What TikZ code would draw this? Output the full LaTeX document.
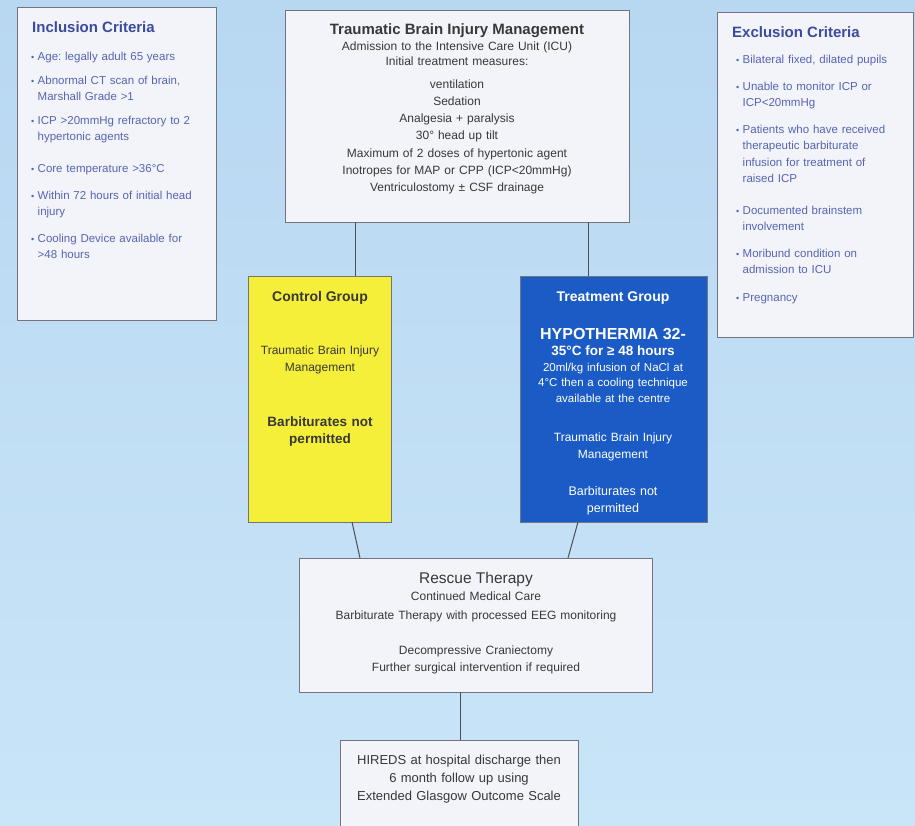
\documentclass[tikz,border=0pt]{standalone}
\usepackage{fontspec}
\setmainfont{Liberation Sans}
\definecolor{bgtop}{HTML}{B8D7F1}
\definecolor{bgbot}{HTML}{C9E5F8}
\definecolor{boxfill}{HTML}{F3F4FA}
\definecolor{boxline}{HTML}{74747E}
\definecolor{critTitle}{HTML}{3A4A9E}
\definecolor{critText}{HTML}{5664B2}
\definecolor{txt}{HTML}{383838}
\definecolor{ctrlfill}{HTML}{F5EF3A}
\definecolor{trtfill}{HTML}{1B5BC6}
\definecolor{linkcol}{HTML}{4E4E56}
\newcommand\myfs[2]{\fontsize{#1}{#2}\selectfont}
\newcommand\critbul{\makebox[6.5pt][l]{\myfs{9}{9}\textbullet}}
\newcommand\critind{\hspace*{6.5pt}}
\frenchspacing
\begin{document}
\begin{tikzpicture}[x=1pt,y=-1pt,
  panel/.style={draw=boxline, line width=1pt, fill=boxfill, anchor=north west, inner sep=0pt, outer sep=0pt},
  txtline/.style={anchor=base, inner sep=0pt, align=center, text=txt},
  crittitle/.style={anchor=base west, inner sep=0pt, text=critTitle, font=\bfseries\myfs{15}{18}},
  crit/.style={anchor=base west, inner sep=0pt, align=left, text width=178pt, text=critText},
  conn/.style={draw=linkcol, line width=1pt}
]
\useasboundingbox (0,0) rectangle (915,825);
\shade[top color=bgtop, bottom color=bgbot] (0,0) rectangle (915,825);
\clip (0,0) rectangle (915,825);

% ---------- Inclusion criteria ----------
\node[panel, minimum width=199pt, minimum height=313pt] (inc) at (17,7) {};
\node[crittitle] (incT) at (32,32) {Inclusion Criteria};
\node[crit, font=\myfs{11.5}{16.5}] (inc1) at (31,60) {\critbul Age: legally adult 65 years};
\node[crit, font=\myfs{11.5}{16.5}] (inc2) at (31,84) {\critbul Abnormal CT scan of brain,\\\critind Marshall Grade >1};
\node[crit, font=\myfs{11.5}{16.5}] (inc3) at (31,124) {\critbul ICP >20mmHg refractory to 2\\\critind hypertonic agents};
\node[crit, font=\myfs{11.5}{16.5}] (inc4) at (31,172) {\critbul Core temperature >36°C};
\node[crit, font=\myfs{11.5}{16.5}] (inc5) at (31,199) {\critbul Within 72 hours of initial head\\\critind injury};
\node[crit, font=\myfs{11.5}{16.5}] (inc6) at (31,242) {\critbul Cooling Device available for\\\critind >48 hours};

% ---------- Exclusion criteria ----------
\node[panel, minimum width=196pt, minimum height=325pt] (exc) at (717,12) {};
\node[crittitle] (excT) at (732,37) {Exclusion Criteria};
\node[crit, font=\myfs{11.5}{16.5}] (exc1) at (736,63) {\critbul Bilateral fixed, dilated pupils};
\node[crit, font=\myfs{11.5}{16.5}] (exc2) at (736,90) {\critbul Unable to monitor ICP or\\\critind ICP<20mmHg};
\node[crit, font=\myfs{11.5}{16.5}] (exc3) at (736,133) {\critbul Patients who have received\\\critind therapeutic barbiturate\\\critind infusion for treatment of\\\critind raised ICP};
\node[crit, font=\myfs{11.5}{16.5}] (exc4) at (736,214) {\critbul Documented brainstem\\\critind involvement};
\node[crit, font=\myfs{11.5}{16.5}] (exc5) at (736,257) {\critbul Moribund condition on\\\critind admission to ICU};
\node[crit, font=\myfs{11.5}{16.5}] (exc6) at (736,301) {\critbul Pregnancy};

% ---------- TBI management ----------
\node[panel, minimum width=344pt, minimum height=212pt] (tbi) at (285,10) {};
\node[txtline, font=\bfseries\myfs{15}{18}] (tbiT) at (457,34.5) {Traumatic Brain Injury Management};
\node[txtline, text width=330pt, font=\myfs{12}{15.5}] (tbiA) at (457,50) {Admission to the Intensive Care Unit (ICU)\\Initial treatment measures:};
\node[txtline, text width=330pt, font=\myfs{12}{17.3}] (tbiB) at (457,88) {ventilation\\Sedation\\Analgesia + paralysis\\30° head up tilt\\Maximum of 2 doses of hypertonic agent\\Inotropes for MAP or CPP (ICP<20mmHg)\\Ventriculostomy ± CSF drainage};

% ---------- Control group ----------
\node[panel, fill=ctrlfill, minimum width=143pt, minimum height=246pt] (ctrl) at (248,276) {};
\node[txtline, font=\bfseries\myfs{14}{17}] (ctrlT) at (320,301) {Control Group};
\node[txtline, text width=140pt, font=\myfs{12}{17}] (ctrlA) at (320,354) {Traumatic Brain Injury\\Management};
\node[txtline, text width=140pt, font=\bfseries\myfs{13.5}{17}] (ctrlB) at (320,426) {Barbiturates not\\permitted};

% ---------- Treatment group ----------
\node[panel, fill=trtfill, minimum width=187pt, minimum height=246pt] (trt) at (520,276) {};
\node[txtline, text=white, font=\bfseries\myfs{14}{17}] (trtT) at (613,301) {Treatment Group};
\node[txtline, text=white, font=\bfseries\myfs{16}{17}] (trtH) at (613,339) {HYPOTHERMIA 32-};
\node[txtline, text=white, font=\bfseries\myfs{13.5}{17}] (trtH2) at (613,355) {35°C for ≥ 48 hours};
\node[txtline, text=white, text width=180pt, font=\myfs{11.5}{15.5}] (trtC) at (613,371) {20ml/kg infusion of NaCl at\\4°C then a cooling technique\\available at the centre};
\node[txtline, text=white, text width=180pt, font=\myfs{12}{17}] (trtM) at (613,441) {Traumatic Brain Injury\\Management};
\node[txtline, text=white, text width=180pt, font=\myfs{12.5}{17}] (trtB) at (613,495) {Barbiturates not\\permitted};

% ---------- Rescue therapy ----------
\node[panel, minimum width=353pt, minimum height=134pt] (resc) at (299,558) {};
\node[txtline, font=\myfs{15.5}{18}] (rescT) at (476,583) {Rescue Therapy};
\node[txtline, text width=345pt, font=\myfs{12}{19}] (rescA) at (476,600) {Continued Medical Care\\Barbiturate Therapy with processed EEG monitoring};
\node[txtline, text width=345pt, font=\myfs{12}{17}] (rescB) at (476,654) {Decompressive Craniectomy\\Further surgical intervention if required};

% ---------- Outcome ----------
\node[panel, minimum width=238pt, minimum height=100pt] (hir) at (340,740) {};
\node[txtline, text width=230pt, font=\myfs{13}{18}] (hirA) at (459,764) {HIREDS at hospital discharge then\\6 month follow up using\\Extended Glasgow Outcome Scale};

% ---------- Connectors ----------
\coordinate (xa) at (355,0);
\coordinate (xb) at (588,0);
\coordinate (xc1) at (352,0);
\coordinate (xc2) at (360,0);
\coordinate (xd1) at (578,0);
\coordinate (xd2) at (568,0);
\coordinate (xe) at (460,0);
\draw[conn] (tbi.south -| xa) -- (ctrl.north -| xa);
\draw[conn] (tbi.south -| xb) -- (trt.north -| xb);
\draw[conn] (ctrl.south -| xc1) -- (resc.north -| xc2);
\draw[conn] (trt.south -| xd1) -- (resc.north -| xd2);
\draw[conn] (resc.south -| xe) -- (hir.north -| xe);
\end{tikzpicture}
\end{document}
